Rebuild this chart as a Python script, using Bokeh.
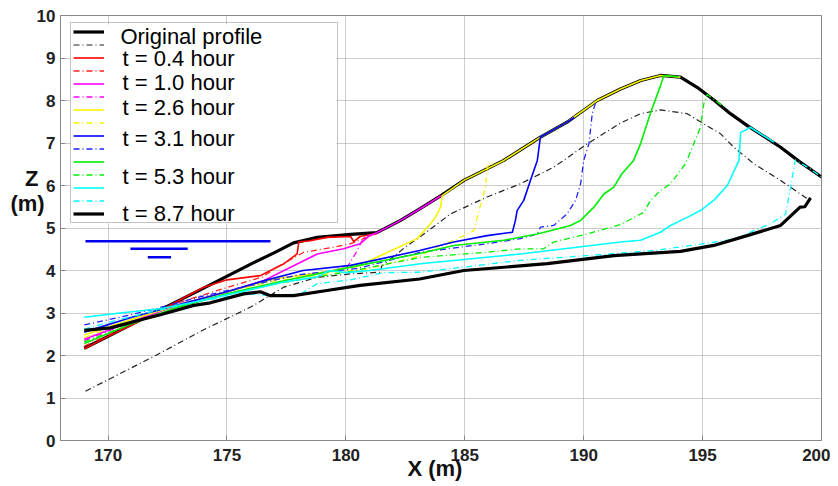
from bokeh.plotting import figure
from bokeh.models import Range1d, FixedTicker, Legend, LegendItem
from bokeh.core.properties import value
from bokeh.embed import file_html
from bokeh.resources import INLINE

# ---------------- data ----------------
x_ticks = [170, 175, 180, 185, 190, 195, 200]
y_ticks = [0, 1, 2, 3, 4, 5, 6, 7, 8, 9, 10]

orig_x = [169, 170, 172, 174, 176, 177, 177.8, 178.8, 180.2, 181.3, 182.3, 183.14, 184.0, 184.96, 186.64, 188.18,
          189.3, 190.57, 191.55, 192.4, 193.23, 194.07, 194.77, 195.5, 196.17, 196.88, 197.6, 198.28, 199.1, 199.82, 200]
orig_z = [2.17, 2.45, 3.02, 3.58, 4.15, 4.42, 4.65, 4.78, 4.85, 4.89, 5.18, 5.46, 5.76, 6.12, 6.59, 7.14,
          7.49, 8.0, 8.27, 8.47, 8.59, 8.55, 8.31, 8.0, 7.69, 7.41, 7.15, 6.9, 6.55, 6.27, 6.2]

dd0_x = [169.05, 170, 172, 174, 176, 177.4, 178.8, 180.2, 181.46, 181.5, 182.5, 183.14, 184.4, 185.94, 187.34, 188.74,
         190.15, 191.55, 192.39, 193.23, 194.35, 195.05, 195.75, 196.31, 197.16, 198.28, 199.4]
dd0_z = [1.16, 1.43, 2.0, 2.6, 3.14, 3.61, 3.84, 3.92, 3.96, 4.1, 4.55, 4.8, 5.33, 5.73, 6.04, 6.43,
         6.98, 7.47, 7.69, 7.78, 7.69, 7.45, 7.22, 6.9, 6.51, 6.12, 5.69]

r_x = [169, 170, 171.5, 173, 174, 175, 176.4, 176.83, 177.4, 177.95, 178.02, 178.5, 179.2, 180.2, 180.33, 180.6, 181.3]
r_z = [2.16, 2.45, 2.85, 3.3, 3.6, 3.78, 3.88, 4.0, 4.16, 4.39, 4.67, 4.7, 4.78, 4.8, 4.68, 4.8, 4.87]

rd_x = [169, 171, 173, 175, 176.5, 177.1, 178.23, 179.5, 180.2, 180.75, 181.3]
rd_z = [2.22, 2.75, 3.25, 3.6, 3.85, 4.08, 4.43, 4.55, 4.63, 4.75, 4.87]

m_x = [169, 171, 173, 175, 176.5, 177.4, 178.8, 179.9, 180.6, 181.0, 181.3, 182.3, 183.14, 184.0]
m_z = [2.38, 2.8, 3.2, 3.5, 3.75, 4.0, 4.39, 4.51, 4.63, 4.82, 4.89, 5.18, 5.46, 5.76]

md_x = [169, 171, 173, 175, 177, 179, 180.06, 180.48, 180.75, 181.3]
md_z = [2.35, 2.8, 3.2, 3.5, 3.8, 3.95, 4.08, 4.47, 4.78, 4.88]

y_x = [169, 171, 173, 175, 177, 179, 180.5, 181.6, 183.0, 183.56, 183.77, 183.98, 184.05, 184.96, 186.64, 188.18,
       189.3, 190.57, 191.55, 192.4, 193.23, 194.07]
y_z = [2.48, 2.85, 3.2, 3.5, 3.8, 3.95, 4.1, 4.39, 4.75, 5.1, 5.25, 5.49, 5.76, 6.12, 6.59, 7.14,
       7.49, 8.0, 8.27, 8.47, 8.59, 8.55]

yd_x = [169, 171, 173, 175, 177, 179, 181, 183.14, 183.98, 184.54, 184.96, 185.38, 185.6, 185.87, 185.94, 186.3]
yd_z = [2.42, 2.85, 3.2, 3.5, 3.75, 3.9, 4.05, 4.35, 4.59, 4.71, 4.82, 4.94, 5.41, 5.96, 6.45, 6.55]

b_x = [169, 171, 173, 175, 176.5, 178.2, 180.2, 183.1, 184.54, 185.94, 187.0, 187.13, 187.2, 187.48, 187.76, 188.05,
       188.18, 189.3, 189.6]
b_z = [2.55, 2.9, 3.2, 3.5, 3.75, 4.0, 4.12, 4.47, 4.67, 4.82, 4.9, 5.18, 5.41, 5.65, 6.12, 6.59,
       7.14, 7.49, 7.6]

bd_x = [169, 170.5, 172, 174, 176, 178, 180.5, 183.14, 185.94, 187.34, 188.05, 188.18, 188.74, 189.3, 189.66, 189.87,
        190.0, 190.22, 190.36, 190.5]
bd_z = [2.72, 2.9, 3.1, 3.4, 3.65, 3.9, 4.05, 4.43, 4.63, 4.75, 4.86, 5.02, 5.06, 5.33, 5.65, 6.04,
        6.59, 6.98, 7.69, 7.95]

g_x = [169, 171, 173, 175, 177.4, 180.2, 183.1, 184.54, 186.64, 188.05, 189.45, 189.87, 190.43, 190.85, 191.27, 191.6,
       192.1, 192.39, 192.8, 193.23, 193.37, 194.0]
g_z = [2.28, 2.75, 3.15, 3.45, 3.76, 4.08, 4.4, 4.59, 4.71, 4.86, 5.06, 5.18, 5.49, 5.8, 5.96, 6.27,
       6.59, 6.98, 7.69, 8.35, 8.59, 8.56]

gd_x = [169, 171, 173, 175, 177.4, 180.2, 183.14, 185.94, 187.34, 188.32, 188.74, 190.15, 191.55, 192.53, 192.81, 193.23,
        193.65, 194.28, 194.63, 194.91, 195.05, 195.19, 195.9]
gd_z = [2.32, 2.75, 3.15, 3.45, 3.72, 3.98, 4.31, 4.43, 4.51, 4.51, 4.67, 4.86, 5.08, 5.37, 5.65, 5.88,
        6.04, 6.51, 6.98, 7.37, 7.92, 8.14, 7.85]

c_x = [169, 170.5, 172.2, 174, 176, 177.4, 178.8, 179.3, 180.0, 181.0, 183.14, 187.34, 191.55, 192.39, 193.23, 193.65,
       194.35, 194.91, 195.47, 196.04, 196.53, 196.6, 196.8, 197.0, 198.0]
c_z = [2.9, 3.0, 3.1, 3.3, 3.55, 3.73, 3.85, 4.0, 3.95, 4.0, 4.16, 4.39, 4.67, 4.71, 4.9, 5.06,
       5.25, 5.41, 5.65, 6.0, 6.59, 7.25, 7.3, 7.37, 7.02]

cd_x = [169, 170.5, 172, 174, 176, 176.5, 177.1, 178.1, 178.8, 180.2, 181.6, 183.14, 187.34, 190.15, 191.55, 192.95,
        195.05, 196.46, 197.16, 197.86, 198.49, 198.7, 198.9, 199.5, 200]
cd_z = [2.62, 2.85, 3.05, 3.3, 3.45, 3.42, 3.41, 3.45, 3.69, 3.78, 3.95, 3.96, 4.24, 4.35, 4.41, 4.47,
        4.63, 4.75, 4.94, 5.1, 5.33, 5.96, 6.6, 6.4, 6.2]

fin_x = [169, 170.1, 171.5, 172.2, 173.6, 174.3, 175.7, 176.4, 176.8, 177.8, 179.2, 180.6, 183.1, 184.96, 188.47, 191.27,
         194.07, 195.47, 196.87, 198.28, 199.1, 199.3, 199.54]
fin_z = [2.59, 2.65, 2.86, 2.96, 3.18, 3.24, 3.45, 3.5, 3.41, 3.41, 3.53, 3.65, 3.8, 4.0, 4.16, 4.35,
         4.45, 4.59, 4.82, 5.06, 5.49, 5.5, 5.71]

# still water level symbol
wl_x0 = [169.05, 170.94, 171.67]
wl_x1 = [176.83, 173.35, 172.65]
wl_z = [4.69, 4.51, 4.31]

leg_text = ["Original profile", "t = 0.4 hour", "t = 1.0 hour", "t = 2.6 hour",
            "t = 3.1 hour", "t = 5.3 hour", "t = 8.7 hour"]
# where the legend texts sit (in axis units)
leg_tx = [170.52, 170.61, 170.61, 170.61, 170.61, 170.61, 170.61]
leg_tz = [9.51, 8.98, 8.42, 7.84, 7.11, 6.22, 5.33]
# white backing of the legend box (axis units)
leg_box = dict(left=168.42, right=179.61, bottom=5.106, top=9.79)

# ---------------- figure ----------------
p = figure(width=830, height=486, x_range=Range1d(168, 200), y_range=Range1d(0, 10),
           output_backend="svg", toolbar_location=None,
           min_border_left=60, min_border_right=9, min_border_top=15, min_border_bottom=46)

p.background_fill_color = "white"
p.border_fill_color = "white"
p.outline_line_color = "#888888"
p.outline_line_width = 1

p.xaxis.ticker = FixedTicker(ticks=x_ticks)
p.yaxis.ticker = FixedTicker(ticks=y_ticks)
for ax in (p.xaxis[0], p.yaxis[0]):
    ax.major_tick_in = 5
    ax.major_tick_out = 0
    ax.minor_tick_line_color = None
    ax.axis_line_color = "#888888"
    ax.major_tick_line_color = "#888888"
    ax.major_label_text_font = "Liberation Sans"
    ax.major_label_text_font_style = "bold"
    ax.major_label_text_font_size = "17px"
    ax.major_label_text_color = "#222222"
    ax.axis_label_text_font = "Liberation Sans"
    ax.axis_label_text_font_style = "bold"
    ax.axis_label_text_font_size = "22px"
    ax.axis_label_text_color = "#111111"
p.xaxis.major_label_standoff = 8
p.yaxis.major_label_standoff = 5

p.xaxis.axis_label = "X (m)  "
p.xaxis.axis_label_standoff = -8
p.yaxis.axis_label = "Z \n(m)\n\n\n"
p.yaxis.axis_label_orientation = "horizontal"
p.yaxis.axis_label_standoff = -11
p.yaxis.axis_label_text_line_height = 1.0

p.grid.grid_line_color = "#9a9a9a"
p.grid.grid_line_dash = "1 1"
p.grid.grid_line_width = 1

# white backing so grid lines do not show inside the legend
p.quad(left=[leg_box["left"]], right=[leg_box["right"]], bottom=[leg_box["bottom"]], top=[leg_box["top"]],
       fill_color="white", line_color=None)

dd = "6 3 1 3"
series = [
    (orig_x, orig_z, "black", 3.2, "solid"),
    (dd0_x, dd0_z, "#222222", 1.2, dd),
    (r_x, r_z, "#ff0000", 1.6, "solid"),
    (rd_x, rd_z, "#ff2020", 1.3, dd),
    (m_x, m_z, "#ff00ff", 1.6, "solid"),
    (md_x, md_z, "#ff00ff", 1.3, dd),
    (y_x, y_z, "#f5f500", 1.6, "solid"),
    (yd_x, yd_z, "#f5f500", 1.3, dd),
    (b_x, b_z, "#0000ff", 1.6, "solid"),
    (bd_x, bd_z, "#2020ff", 1.3, dd),
    (g_x, g_z, "#00ee00", 1.6, "solid"),
    (gd_x, gd_z, "#00ee00", 1.3, dd),
    (c_x, c_z, "#00ffff", 1.6, "solid"),
    (cd_x, cd_z, "#00ffff", 1.3, dd),
    (fin_x, fin_z, "black", 3.2, "solid"),
]

items = []
for xs, zs, col, w, dash in series:
    r = p.line(xs, zs, line_color=col, line_width=w, line_dash=dash, line_join="round")
    items.append(LegendItem(label=" ", renderers=[r]))

p.segment(x0=wl_x0, y0=wl_z, x1=wl_x1, y1=wl_z, line_color="#0000ee", line_width=2.5)

p.text(x=leg_tx, y=leg_tz, text=leg_text,
       text_font=value("Liberation Sans"), text_font_size="22px",
       text_baseline="middle", text_align="left", text_color="black")

legend = Legend(items=items, location=(10, 217), padding=2, spacing=0, margin=0,
                glyph_width=31, glyph_height=13, label_height=13, label_width=231,
                label_standoff=0, label_text_font_size="8px",
                border_line_color="#888888", border_line_width=1,
                background_fill_alpha=0)
p.add_layout(legend)

open("out.html", "w").write(file_html(p, INLINE))
